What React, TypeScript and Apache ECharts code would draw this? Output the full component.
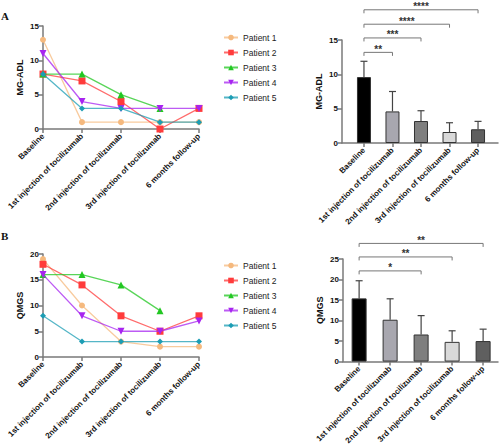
import React, { useEffect, useRef } from "react";
import * as echarts from "echarts";

const categories = [
  "Baseline",
  "1st injection of tocilizumab",
  "2nd injection of tocilizumab",
  "3rd injection of tocilizumab",
  "6 months follow-up",
];
const patientNames = ["Patient 1", "Patient 2", "Patient 3", "Patient 4", "Patient 5"];
const patientColors = ["#F5B97E", "#FF3B3B", "#22C722", "#A724F0", "#1C9DB4"];
const patientSymbols = ["circle", "rect", "triangle", "path://M0,0 L10,0 L5,9 Z", "diamond"];

// MG-ADL per patient
const mgadlP1 = [13, 1, 1, 1, 1];
const mgadlP2 = [8, 7, 4, 0, 3];
const mgadlP3 = [8, 8, 5, 3, null];
const mgadlP4 = [11, 4, 3, 3, 3];
const mgadlP5 = [8, 3, 3, 1, 1];
// QMGS per patient
const qmgsP1 = [19, 10, 3, 2, 2];
const qmgsP2 = [18, 14, 8, 5, 8];
const qmgsP3 = [16, 16, 14, 9, null];
const qmgsP4 = [16, 8, 5, 5, 7];
const qmgsP5 = [8, 3, 3, 3, 3];

const mgadlMean = [9.6, 4.6, 3.2, 1.6, 2.0];
const mgadlSD = [2.3, 2.9, 1.5, 1.35, 1.15];
const qmgsMean = [15.4, 10.2, 6.6, 4.8, 5.0];
const qmgsSD = [4.3, 5.1, 4.6, 2.7, 2.9];

const barColors = ["#000000", "#A8A7AF", "#7F7F7F", "#D9D9D9", "#5F5F5F"];

// significance brackets: [fromIndex, toIndex, yValue]
const mgadlSig = [
  [0, 1, 13.2],
  [0, 2, 15.3],
  [0, 3, 17.3],
  [0, 4, 19.4],
];
const mgadlSigLabels = ["**", "***", "****", "****"];
const qmgsSig = [
  [0, 2, 22.1],
  [0, 3, 25.5],
  [0, 4, 28.8],
];
const qmgsSigLabels = ["*", "**", "**"];

const mgadlYTicks = { max: 15, interval: 5 };
const qmgsLineYTicks = { max: 20, interval: 5 };
const qmgsBarYTicks = { max: 25, interval: 5 };

const AXIS_COLOR = "#7a7a7a";
const FONT = "Liberation Sans, Arial, sans-serif";

function yAxisCfg(gridIndex: number, name: string, max: number, interval: number) {
  return {
    type: "value",
    gridIndex,
    min: 0,
    max,
    interval,
    name,
    nameLocation: "middle",
    nameGap: 19,
    nameTextStyle: { fontFamily: FONT, fontWeight: "bold", fontSize: 9, color: "#111" },
    axisLine: { show: true, onZero: false, lineStyle: { color: AXIS_COLOR, width: 1.5 } },
    axisTick: { show: true, length: 4, lineStyle: { color: AXIS_COLOR, width: 1.5 } },
    axisLabel: { fontFamily: FONT, fontWeight: "bold", fontSize: 8, color: "#111", margin: 4 },
    splitLine: { show: false },
  };
}

const xLabelStyle = {
  fontFamily: FONT,
  fontWeight: "bold",
  fontSize: 8,
  color: "#111",
  rotate: 45,
  margin: 6,
};

function catXAxis(gridIndex: number) {
  return {
    type: "category",
    gridIndex,
    data: categories,
    boundaryGap: false,
    axisLine: { show: true, onZero: false, lineStyle: { color: AXIS_COLOR, width: 1.5 } },
    axisTick: { show: true, length: 4, alignWithLabel: true, lineStyle: { color: AXIS_COLOR, width: 1.5 } },
    axisLabel: { ...xLabelStyle, interval: 0 },
    splitLine: { show: false },
  };
}

function valXAxis(gridIndex: number, min: number, max: number) {
  const idx = categories.map((_, i) => i);
  return {
    type: "value",
    gridIndex,
    min,
    max,
    axisLine: { show: true, onZero: false, lineStyle: { color: AXIS_COLOR, width: 1.5 } },
    axisTick: { show: true, length: 4, customValues: idx, lineStyle: { color: AXIS_COLOR, width: 1.5 } },
    axisLabel: {
      ...xLabelStyle,
      customValues: idx,
      formatter: (v: number) => categories[Math.round(v)] ?? "",
    },
    splitLine: { show: false },
  };
}

function lineSeries(name: string, idx: number, data: (number | null)[], axisIndex: number) {
  return {
    type: "line",
    name,
    xAxisIndex: axisIndex,
    yAxisIndex: axisIndex,
    data,
    symbol: patientSymbols[idx],
    symbolSize: idx === 0 ? 6 : idx === 4 ? 6 : 7,
    showSymbol: true,
    connectNulls: false,
    itemStyle: { color: patientColors[idx] },
    lineStyle: { color: patientColors[idx], width: 1.3, opacity: 0.75 },
    z: 3 + idx,
  };
}

function barSeries(means: number[], axisIndex: number, barWidth: number) {
  return {
    type: "bar",
    xAxisIndex: axisIndex,
    yAxisIndex: axisIndex,
    barWidth,
    data: means.map((m, i) => ({
      value: [i, m],
      itemStyle: { color: barColors[i], borderColor: "#333", borderWidth: 1 },
    })),
    z: 2,
  };
}

function errorSeries(means: number[], sds: number[], axisIndex: number) {
  return {
    type: "custom",
    xAxisIndex: axisIndex,
    yAxisIndex: axisIndex,
    encode: { x: 0, y: [1, 2] },
    data: means.map((m, i) => [i, m, m + sds[i]]),
    clip: false,
    z: 1,
    renderItem: (params: any, api: any) => {
      const x = api.value(0);
      const p0 = api.coord([x, api.value(1)]);
      const p1 = api.coord([x, api.value(2)]);
      const hw = 3.5;
      const st = { stroke: "#444", lineWidth: 1.2 };
      return {
        type: "group",
        children: [
          { type: "line", shape: { x1: p0[0], y1: p0[1], x2: p1[0], y2: p1[1] }, style: st },
          { type: "line", shape: { x1: p1[0] - hw, y1: p1[1], x2: p1[0] + hw, y2: p1[1] }, style: st },
        ],
      };
    },
  };
}

function sigSeries(rows: number[][], labels: string[], axisIndex: number) {
  return {
    type: "custom",
    xAxisIndex: axisIndex,
    yAxisIndex: axisIndex,
    encode: { x: [0, 1], y: 2 },
    data: rows,
    clip: false,
    z: 5,
    renderItem: (params: any, api: any) => {
      const y = api.value(2);
      const p0 = api.coord([api.value(0), y]);
      const p1 = api.coord([api.value(1), y]);
      const d = 3.5;
      return {
        type: "group",
        children: [
          {
            type: "polyline",
            shape: {
              points: [
                [p0[0], p0[1] + d],
                [p0[0], p0[1]],
                [p1[0], p1[1]],
                [p1[0], p1[1] + d],
              ],
            },
            style: { stroke: "#777", lineWidth: 1, fill: "none" },
          },
          {
            type: "text",
            x: (p0[0] + p1[0]) / 2,
            y: p0[1] + 2,
            style: {
              text: labels[params.dataIndex],
              align: "center",
              verticalAlign: "bottom",
              fontSize: 10,
              fontWeight: "bold",
              fontFamily: FONT,
              fill: "#333",
            },
          },
        ],
      };
    },
  };
}

function legendCfg(top: number) {
  return {
    orient: "vertical",
    left: 218,
    top,
    itemWidth: 14,
    itemHeight: 7,
    itemGap: 6,
    data: patientNames,
    textStyle: { fontFamily: FONT, fontSize: 8.5, color: "#222", lineHeight: 8, padding: [0, 0, 0, 0] },
  };
}

const panelTitleStyle = {
  fontFamily: "Liberation Serif, Times New Roman, serif",
  fontWeight: "bold",
  fontSize: 11,
  color: "#111",
};

export default function App() {
  const ref = useRef<HTMLDivElement>(null);
  useEffect(() => {
    if (!ref.current) return;
    const chart = echarts.init(ref.current, undefined, { renderer: "svg" });
    const mgadl = [mgadlP1, mgadlP2, mgadlP3, mgadlP4, mgadlP5];
    const qmgs = [qmgsP1, qmgsP2, qmgsP3, qmgsP4, qmgsP5];
    const option: any = {
      animation: false,
      backgroundColor: "#fff",
      title: [
        { text: "A", left: 1, top: 10, padding: 0, textStyle: panelTitleStyle },
        { text: "B", left: 1, top: 230, padding: 0, textStyle: panelTitleStyle },
      ],
      legend: [legendCfg(28), legendCfg(256)],
      grid: [
        { left: 43, top: 26, width: 156, height: 103 },
        { left: 342, top: 40, width: 156, height: 103 },
        { left: 43, top: 254, width: 156, height: 103 },
        { left: 343, top: 259, width: 155, height: 104 },
      ],
      xAxis: [catXAxis(0), valXAxis(1, -0.77, 4.7), catXAxis(2), valXAxis(3, -0.52, 4.48)],
      yAxis: [
        yAxisCfg(0, "MG-ADL", mgadlYTicks.max, mgadlYTicks.interval),
        yAxisCfg(1, "MG-ADL", mgadlYTicks.max, mgadlYTicks.interval),
        yAxisCfg(2, "QMGS", qmgsLineYTicks.max, qmgsLineYTicks.interval),
        yAxisCfg(3, "QMGS", qmgsBarYTicks.max, qmgsBarYTicks.interval),
      ],
      series: [
        ...mgadl.map((d, i) => lineSeries(patientNames[i], i, d, 0)),
        ...qmgs.map((d, i) => lineSeries(patientNames[i], i, d, 2)),
        barSeries(mgadlMean, 1, 14),
        errorSeries(mgadlMean, mgadlSD, 1),
        sigSeries(mgadlSig, mgadlSigLabels, 1),
        barSeries(qmgsMean, 3, 15),
        errorSeries(qmgsMean, qmgsSD, 3),
        sigSeries(qmgsSig, qmgsSigLabels, 3),
      ],
    };
    chart.setOption(option);
    return () => chart.dispose();
  }, []);
  return (
    <div
      ref={ref}
      style={{ position: "fixed", left: 0, top: 0, width: 500, height: 447, background: "#fff" }}
    />
  );
}
